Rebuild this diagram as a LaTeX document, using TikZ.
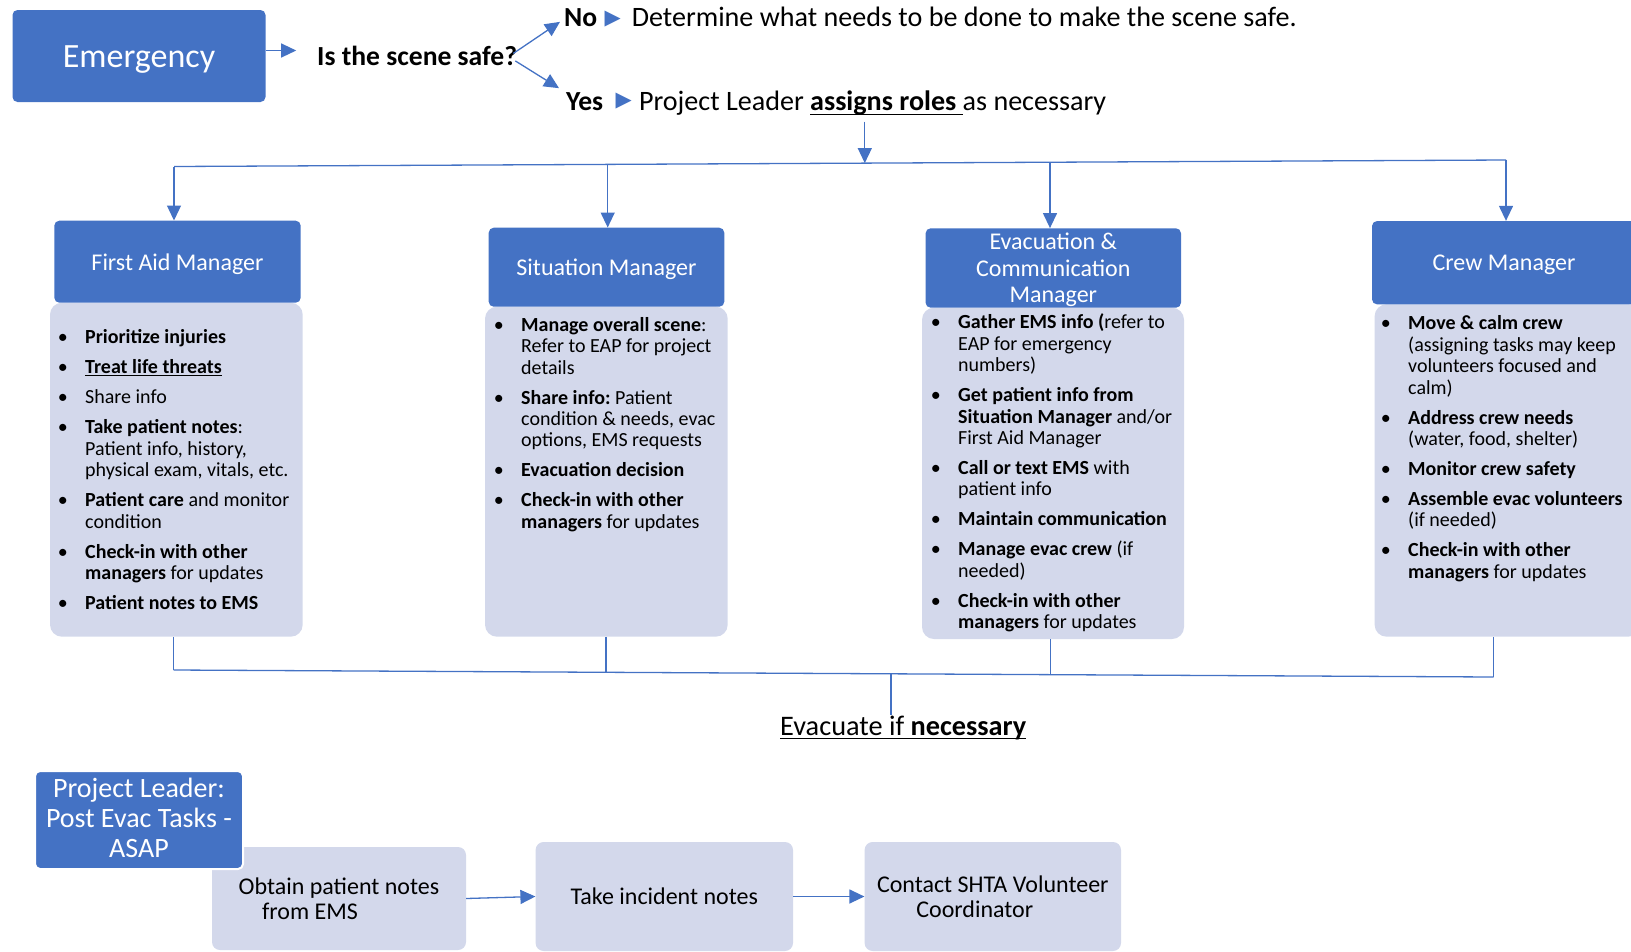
\documentclass[tikz,border=0pt]{standalone}
\usepackage{fontspec}
\setmainfont{Carlito}
\newfontfamily\symfont{DejaVu Sans}
\usetikzlibrary{arrows.meta}
\definecolor{hdrblue}{RGB}{68,114,196}
\definecolor{lav}{RGB}{211,216,235}
\frenchspacing
\newsavebox\ulbox
\newcommand{\myuline}[2][3pt]{\sbox\ulbox{#2}\rlap{\rule[-#1]{\wd\ulbox}{1.4pt}}\usebox\ulbox}
\newcommand{\nl}{\newline}
\newcommand{\bitem}[1]{\par\spaceskip=0pt\xspaceskip=0pt\hangindent=24.4pt\hangafter=1\noindent\makebox[24.4pt][l]{\hspace{-3pt}\textbullet\rule{0pt}{15pt}}#1\par\vspace{8.6pt}}
\begin{document}
\begin{tikzpicture}[x=1pt,y=-1pt,
  hdr/.style={fill=hdrblue, rounded corners=5pt, text=white, align=center, inner sep=0pt, text depth=0pt, font=\fontsize{24}{26.5}\selectfont},
  body/.style={fill=lav, rounded corners=12pt, inner sep=0pt},
  btxt/.style={anchor=north west, inner sep=0pt, text width=320pt, align=left, font=\frenchspacing\fontsize{20}{21.4}\selectfont},
  lbl/.style={anchor=base west, inner sep=0pt, font=\fontsize{28.1}{30}\selectfont},
  lblb/.style={lbl, font=\bfseries\fontsize{27.6}{30}\selectfont},
  tri/.style={inner sep=0pt, text=hdrblue, font=\symfont\fontsize{21}{21}\selectfont},
  pbox/.style={fill=lav, rounded corners=8pt, inner sep=0pt, align=center, font=\fontsize{24}{25.5}\selectfont},
  con/.style={draw=hdrblue, line width=1.3pt},
  arr/.style={con, -{Triangle[length=15pt,width=14pt]}}]
\useasboundingbox (0,0) rectangle (1631,951);

% top row
\node[hdr, font=\fontsize{34}{40}\selectfont, minimum width=253pt, minimum height=92pt] (emerg) at (139,56) {\raisebox{-1.5pt}{Emergency}};
\node[lblb] (safe) at (317,65) {Is the scene safe?};
\node[lblb] (no) at (564,26.7) {No};
\node[tri] (notri) at (612.8,19.5) {▶};
\node[lbl] (notext) at (631.6,26.7) {Determine what needs to be done to make the scene safe.};
\node[lblb] (yes) at (566,110) {Yes};
\node[tri] (yestri) at (623.7,101.5) {▶};
\node[lbl] (yestext) at (638.8,110) {Project Leader \myuline[5pt]{\textbf{assigns roles}\ }as necessary};

\draw[arr] ([yshift=5.5pt]emerg.east) -- ++(30.5,0);
\draw[arr] ([shift={(-4,-2)}]safe.east) -- ([shift={(-4,4)}]no.west);
\draw[arr] ([shift={(-2,5.5)}]safe.east) -- ([shift={(-7,-13)}]yes.west);

% top bus
\coordinate (tbA) at (174,166.5);
\coordinate (tbB) at (607.7,164.4);
\coordinate (tbC) at (1050,162.2);
\coordinate (tbD) at (1506,160);
\coordinate (tbM) at (864.8,163.1);
\coordinate (tbS) at (864.8,121.7);
\draw[con] (tbA) -- (tbD);
\draw[arr] (tbS) -- (tbM);

% bodies
\node[body, minimum width=252.7pt, minimum height=334pt] (fab) at (176.35,469.7) {};
\node[body, minimum width=242.7pt, minimum height=330pt] (sib) at (606.35,471.7) {};
\node[body, minimum width=262pt, minimum height=331.3pt] (evb) at (1053,473.35) {};
\node[body, minimum width=265.4pt, minimum height=332.4pt] (crb) at (1507.3,470.5) {};

% headers
\node[hdr, minimum width=246.4pt, minimum height=82pt] (fah) at (177.5,261.7) {First Aid Manager};
\node[hdr, minimum width=235.6pt, minimum height=79pt] (sih) at (606.5,267.2) {Situation Manager};
\node[hdr, minimum width=255.4pt, minimum height=79.4pt] (evh) at (1053.3,268) {Evacuation \&\\Communication\\Manager};
\node[hdr, minimum width=264pt, minimum height=83.3pt] (crh) at (1504,262.7) {Crew Manager};

\draw[arr] (tbA) -- (tbA |- fah.north);
\draw[arr] (tbB) -- (tbB |- sih.north);
\draw[arr] (tbC) -- (tbC |- evh.north);
\draw[arr] (tbD) -- (tbD |- crh.north);

% body texts
\node[btxt] (fat) at (60.6,322.3) {%
\bitem{\textbf{Prioritize injuries}}%
\bitem{\myuline[2.5pt]{\textbf{Treat life threats}}}%
\bitem{Share info}%
\bitem{\textbf{Take patient notes}:\nl Patient info, history,\nl physical exam, vitals, etc.}%
\bitem{\textbf{Patient care} and monitor\nl condition}%
\bitem{\textbf{Check-in with other\nl managers} for updates}%
\bitem{\textbf{Patient notes to EMS}}};

\node[btxt] (sit) at (496.6,309.7) {%
\bitem{\textbf{Manage overall scene}:\nl Refer to EAP for project\nl details}%
\bitem{\textbf{Share info:} Patient\nl condition \& needs, evac\nl options, EMS requests}%
\bitem{\textbf{Evacuation decision}}%
\bitem{\textbf{Check-in with other\nl managers} for updates}};

\node[btxt] (evt) at (933.6,307.3) {%
\bitem{\textbf{Gather EMS info (}refer to\nl EAP for emergency\nl numbers)}%
\bitem{\textbf{Get patient info from\nl Situation Manager} and/or\nl First Aid Manager}%
\bitem{\textbf{Call or text EMS} with\nl patient info}%
\bitem{\textbf{Maintain communication}}%
\bitem{\textbf{Manage evac crew} (if\nl needed)}%
\bitem{\textbf{Check-in with other\nl managers} for updates}};

\node[btxt] (crt) at (1383.6,308.3) {%
\bitem{\textbf{Move \& calm crew}\nl (assigning tasks may keep\nl volunteers focused and\nl calm)}%
\bitem{\textbf{Address crew needs}\nl (water, food, shelter)}%
\bitem{\textbf{Monitor crew safety}}%
\bitem{\textbf{Assemble evac volunteers}\nl (if needed)}%
\bitem{\textbf{Check-in with other\nl managers} for updates}};

% bottom bus
\coordinate (bbA) at (173.7,670);
\coordinate (bbB) at (606,672.3);
\coordinate (bbC) at (1050.5,674.6);
\coordinate (bbD) at (1493.7,677);
\coordinate (bbM) at (891,674.2);
\draw[con] (bbA) -- (bbD);
\draw[con] (bbA |- fab.south) -- (bbA);
\draw[con] (bbB |- sib.south) -- (bbB);
\draw[con] (bbC |- evb.south) -- (bbC);
\draw[con] (bbD |- crb.south) -- (bbD);

\node[lbl, font=\fontsize{28.3}{30}\selectfont] (evac) at (780,735) {\myuline[4pt]{Evacuate if \textbf{necessary}}};
\draw[con] (bbM) -- (bbM |- evac.north);

% post evac
\node[pbox, minimum width=254pt, minimum height=103pt] (pa) at (339,898.5) {Obtain patient notes\\from EMS\kern58pt};
\node[pbox, minimum width=257.4pt, minimum height=109pt] (pb) at (664.3,896.5) {Take incident notes};
\node[pbox, minimum width=256.4pt, minimum height=109pt] (pc) at (992.8,896.5) {Contact SHTA Volunteer\\Coordinator\kern36pt};
\node[hdr, draw=white, line width=2pt, minimum width=208pt, minimum height=98pt, text depth=4pt, font=\fontsize{28}{30}\selectfont] (pl) at (139,820) {Project Leader:\\Post Evac Tasks -\\ASAP};

\draw[arr] (pa.east) -- (pb.west);
\draw[arr] (pb.east) -- (pc.west);
\end{tikzpicture}
\end{document}
